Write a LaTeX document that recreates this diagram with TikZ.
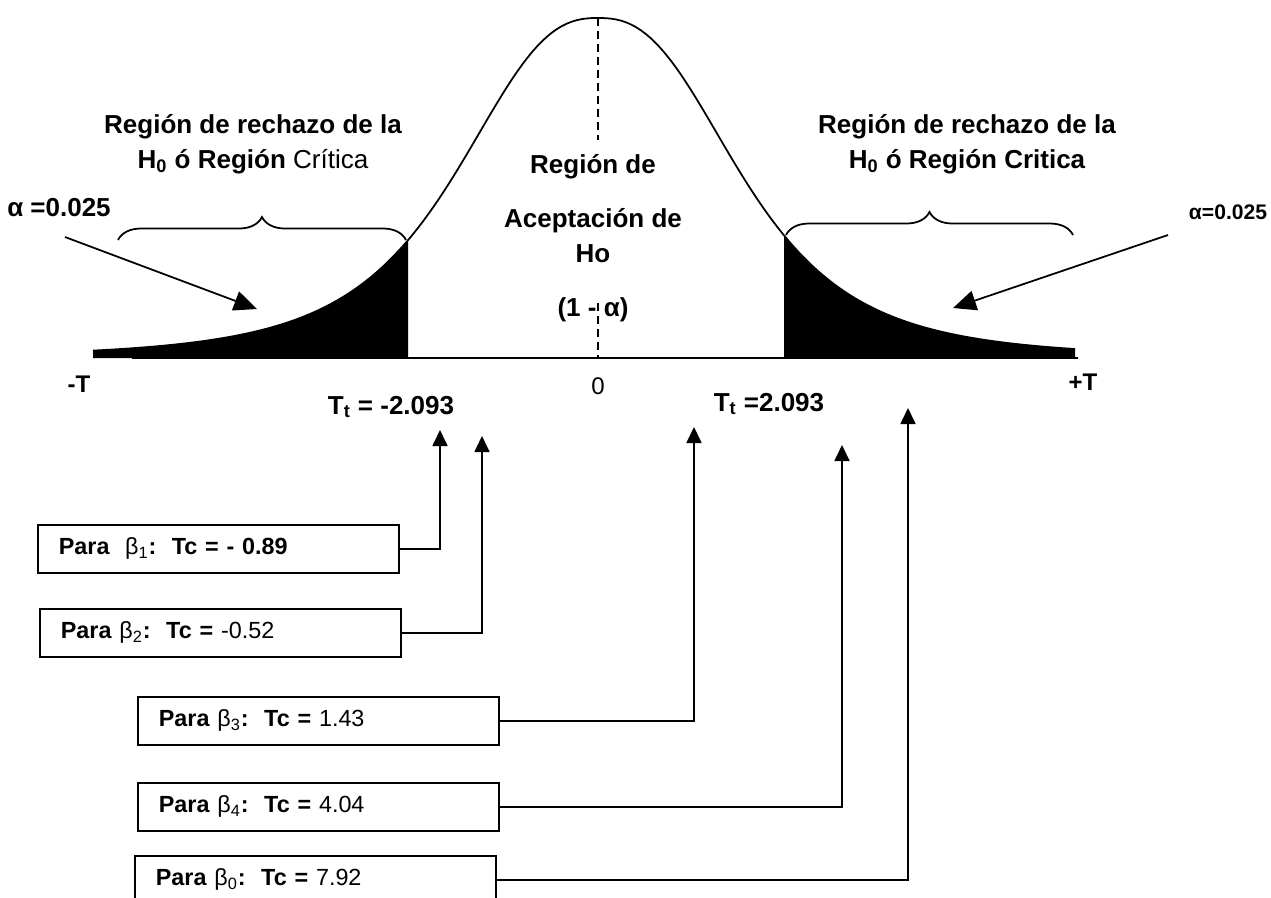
\documentclass[tikz,border=0pt]{standalone}
\usepackage{fontspec}
\setmainfont{Liberation Sans}
\usetikzlibrary{positioning, arrows.meta, decorations.pathreplacing}

\begin{document}
\begin{tikzpicture}[
  x=0.02cm, y=-0.02cm,
  declare function={
    tu(\t)=(\t-598)/188;
    tq(\t)=1+tu(\t)^2*sqrt(abs(tu(\t)));
    dens(\t)=358-340/(tq(\t)*sqrt(tq(\t)));
  },
  denscurve/.style={line width=1pt},
  tail/.style={fill=black},
  axisline/.style={line width=1.3pt},
  midline/.style={line width=1pt, dash pattern=on 0.16cm off 0.1cm},
  heading/.style={font=\fontsize{14.8}{19.9}\selectfont\bfseries, align=center, inner sep=0pt},
  smallhead/.style={font=\fontsize{12}{14}\selectfont\bfseries, inner sep=0pt},
  tick/.style={font=\fontsize{13.7}{16}\selectfont, inner sep=0pt},
  box/.style={draw, line width=1pt, anchor=north west, minimum height=0.96cm,
    text width=6.38cm, inner xsep=0.42cm, align=left, font=\fontsize{13.3}{16}\selectfont},
  link/.style={line width=1pt, -{Triangle[width=0.3cm, length=0.32cm]}},
  pointer/.style={line width=1pt, -{Triangle[width=0.4cm, length=0.46cm]}},
  tailbrace/.style={decorate, decoration={brace, amplitude=0.46cm}, line width=1pt}
]
\clip (0,0) rectangle (1271,897);

% ======================================================
% =============== CURVE ================================
% ======================================================
\fill[tail] plot[domain=93:408, samples=80] (\x,{dens(\x)}) -- (408,358) -- (93,358) -- cycle;
\fill[tail] plot[domain=784:1075, samples=80] (\x,{dens(\x)}) -- (1075,358) -- (784,358) -- cycle;
\draw[denscurve] plot[domain=93:1075, samples=200] (\x,{dens(\x)});
\draw[axisline] (132,358) -- (1078,358);
\draw[midline] (598,18) -- (598,140);
\draw[midline] (598,303) -- (598,358);

% braces over the tails
\draw[tailbrace] (118,240) -- (406,240);
\draw[tailbrace] (786,235) -- (1073,235);

% ======================================================
% =============== LABELS ===============================
% ======================================================
\node[heading] (rejL) at (253,144) {Región de rechazo de la\\H\textsubscript{0} ó Región \mdseries Crítica};
\node[heading] (rejR) at (967,144) {Región de rechazo de la\\H\textsubscript{0} ó Región Critica};

\node[heading] (acc1) at (593,167) {Región de};
\node[heading] (acc2) at (593,236) {Aceptación de\\Ho};
\node[heading] (acc3) at (593,310) {(1 - α)};

\node[heading] (alphaL) at (59,208) {α =0.025};
\node[smallhead] (alphaR) at (1228,212) {α=0.025};

\node[tick, font=\fontsize{13.7}{16}\selectfont\bfseries] (minusT) at (79,384) {-T};
\node[tick, font=\fontsize{13.7}{16}\selectfont\bfseries] (plusT) at (1083,382) {+T};
\node[tick] (zero) at (598,386) {0};
\node[heading] (ttL) at (391,407) {T\textsubscript{t} = -2.093};
\node[heading] (ttR) at (769,404) {T\textsubscript{t} =2.093};

% alpha pointers
\coordinate (pL) at (65,237);
\coordinate (pLt) at (257,309);
\coordinate (pR) at (1168,235);
\coordinate (pRt) at (953,308);
\draw[pointer] (pL) -- (pLt);
\draw[pointer] (pR) -- (pRt);

% ======================================================
% =============== BOXES ================================
% ======================================================
\node[box] (b1) at (37,524) {\textbf{Para\ \ }β\textsubscript{1}\textbf{:\ \ Tc = - 0.89}};
\node[box] (b2) at (39,608) {\textbf{Para }β\textsubscript{2}\textbf{:\ \ Tc =} -0.52};
\node[box] (b3) at (137,696) {\textbf{Para }β\textsubscript{3}\textbf{:\ \ Tc =} 1.43};
\node[box] (b4) at (137,782) {\textbf{Para }β\textsubscript{4}\textbf{:\ \ Tc =} 4.04};
\node[box] (b5) at (134,855) {\textbf{Para }β\textsubscript{0}\textbf{:\ \ Tc =} 7.92};

% arrow tips under the axis
\coordinate (tip1) at (440,430);
\coordinate (tip2) at (482,436);
\coordinate (tip3) at (694,427);
\coordinate (tip4) at (842,445);
\coordinate (tip5) at (908,408);

\draw[link] (b1.east) -| (tip1);
\draw[link] (b2.east) -| (tip2);
\draw[link] (b3.east) -| (tip3);
\draw[link] (b4.east) -| (tip4);
\draw[link] (b5.east) -| (tip5);

\end{tikzpicture}
\end{document}
